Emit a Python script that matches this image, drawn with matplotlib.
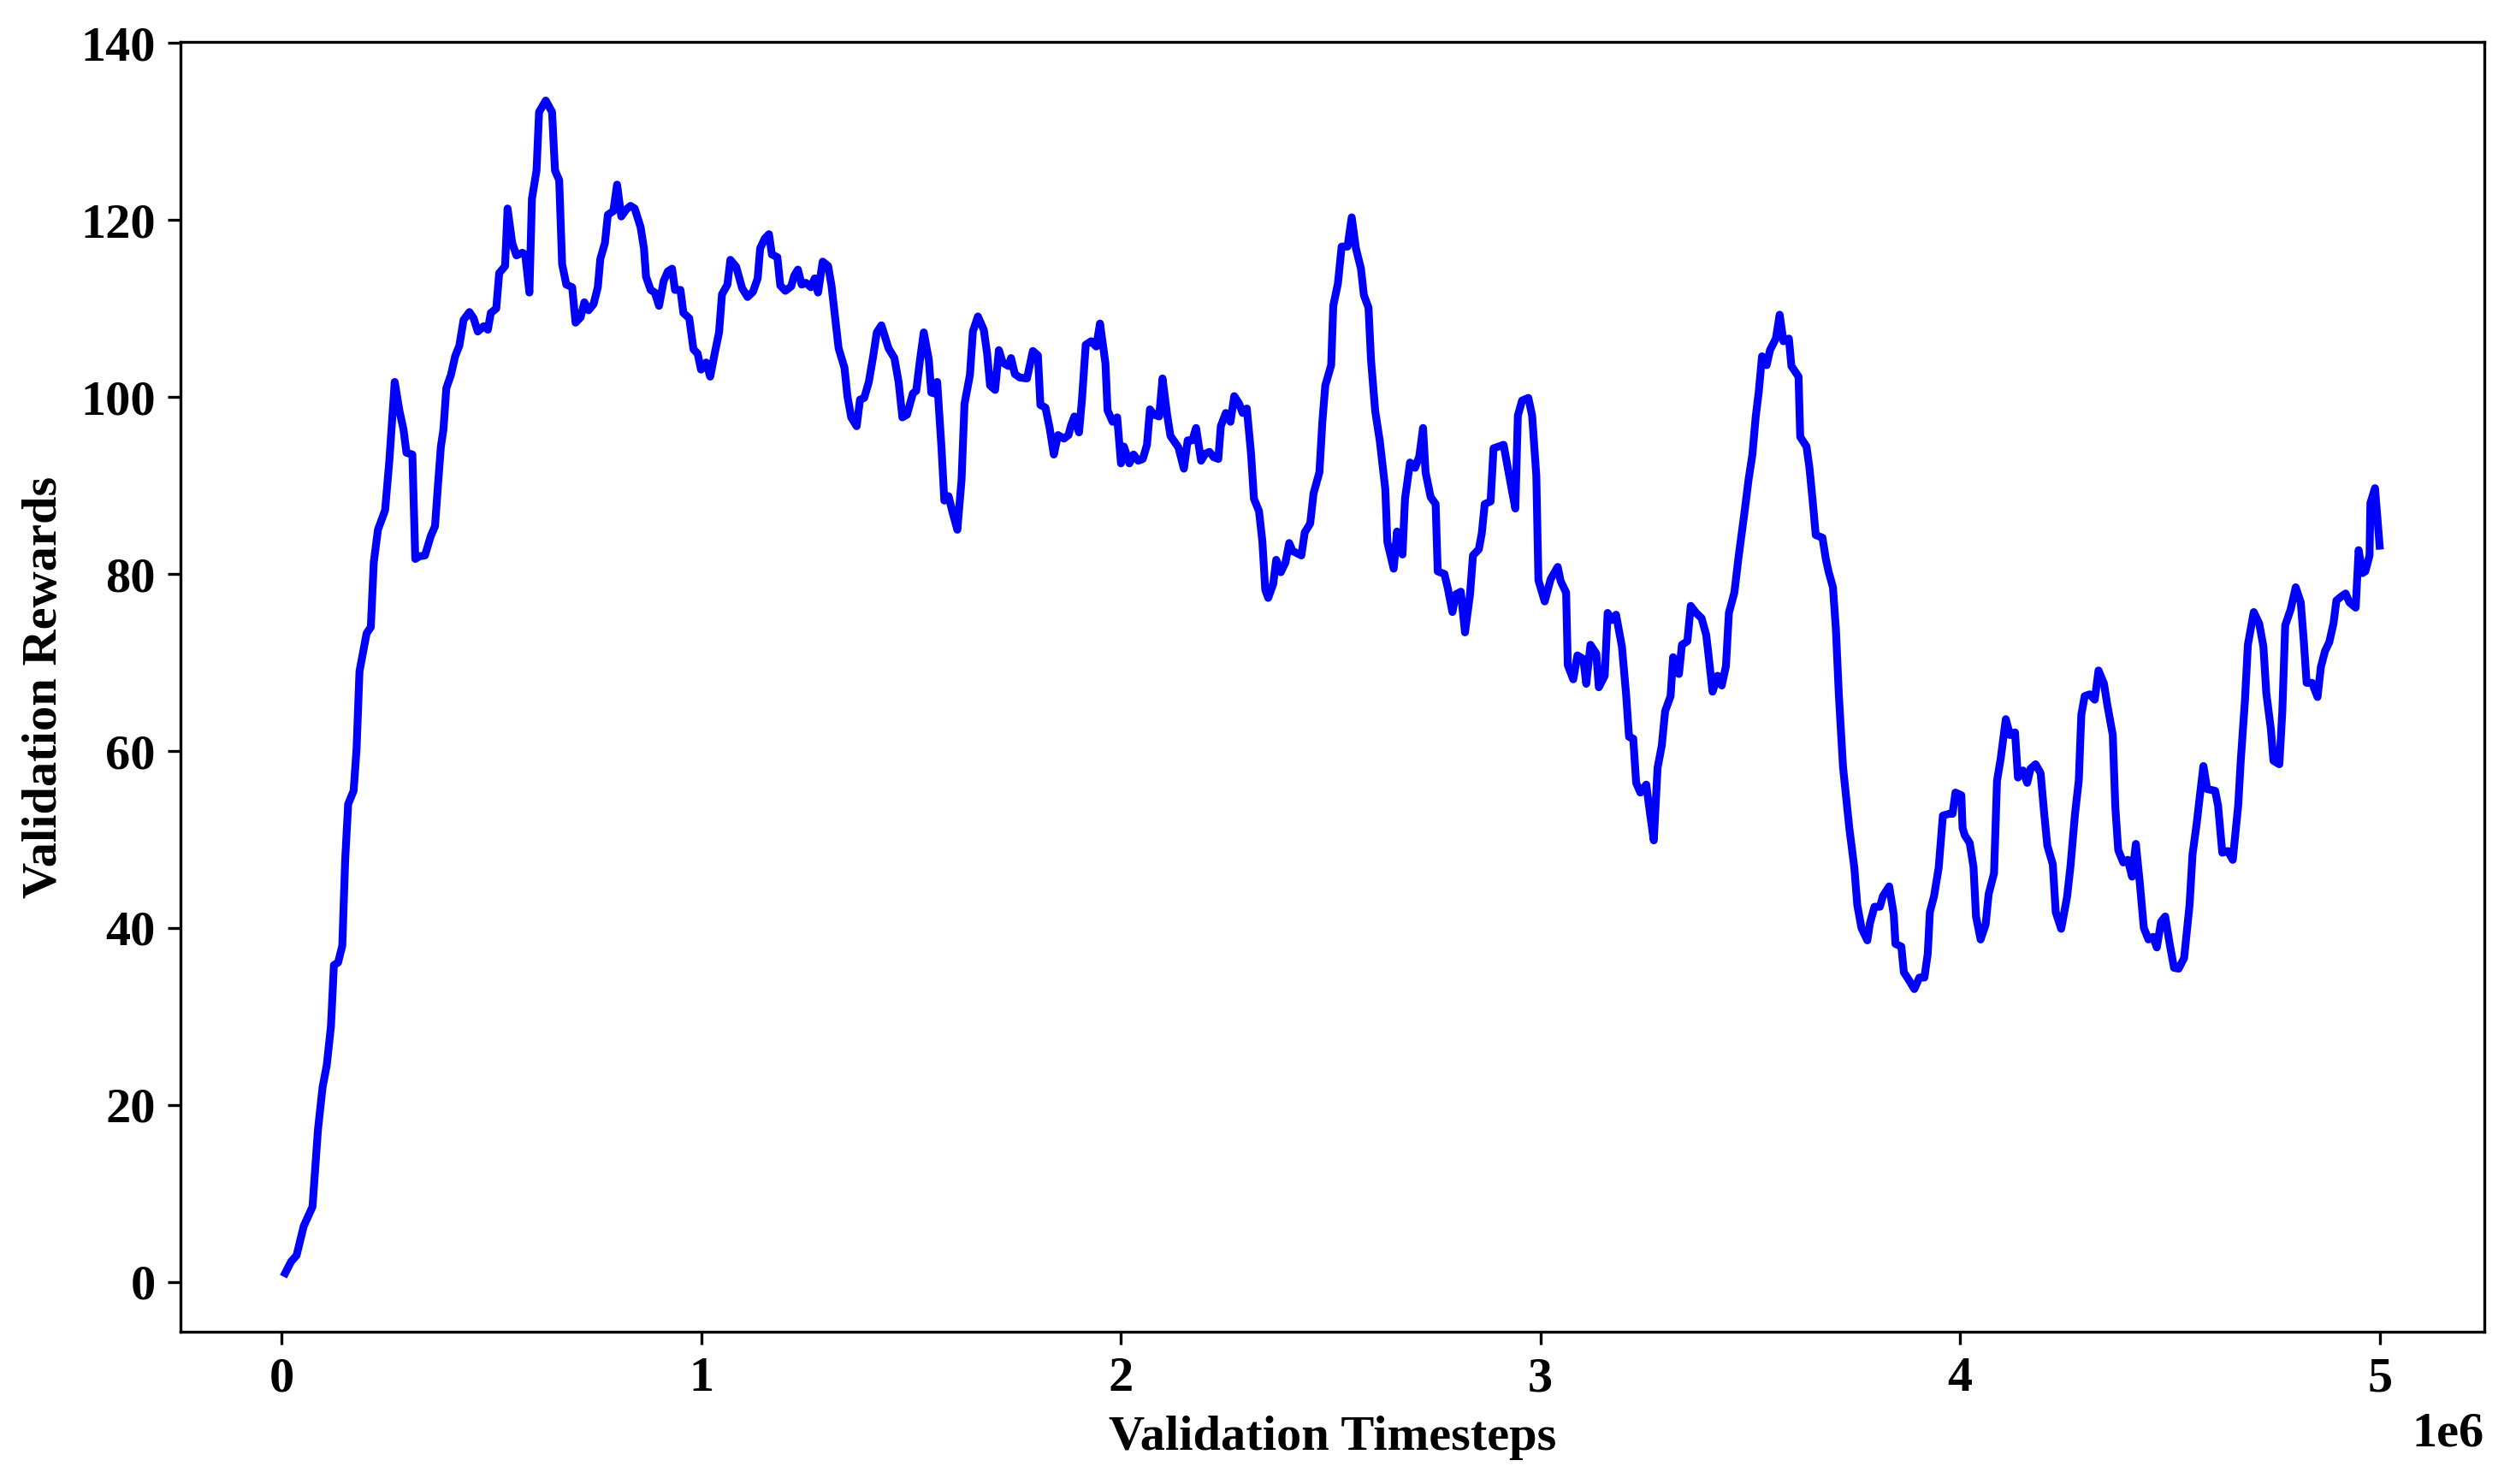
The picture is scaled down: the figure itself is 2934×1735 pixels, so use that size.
import matplotlib
matplotlib.use("Agg")
import matplotlib.pyplot as plt
import numpy as np

# Timesteps in millions and the matching rewards
timesteps_m = [
    0.008, 0.022, 0.035, 0.052, 0.073, 0.086, 0.097, 0.107, 0.117, 0.124,
    0.134, 0.144, 0.151, 0.158, 0.171, 0.178, 0.185, 0.202, 0.212, 0.219,
    0.229, 0.246, 0.256, 0.269, 0.280, 0.290, 0.297, 0.311, 0.318, 0.328,
    0.341, 0.355, 0.365, 0.372, 0.379, 0.385, 0.392, 0.403, 0.413, 0.423,
    0.433, 0.447, 0.457, 0.467, 0.481, 0.491, 0.498, 0.511, 0.518, 0.532,
    0.538, 0.549, 0.559, 0.573, 0.580, 0.590, 0.596, 0.607, 0.613, 0.629,
    0.644, 0.651, 0.661, 0.668, 0.678, 0.692, 0.700, 0.712, 0.721, 0.731,
    0.743, 0.753, 0.759, 0.770, 0.777, 0.790, 0.799, 0.809, 0.821, 0.831,
    0.841, 0.855, 0.863, 0.868, 0.879, 0.889, 0.899, 0.910, 0.920, 0.930,
    0.937, 0.950, 0.957, 0.971, 0.981, 0.991, 0.999, 1.011, 1.021, 1.032,
    1.042, 1.049, 1.062, 1.069, 1.083, 1.097, 1.110, 1.123, 1.134, 1.140,
    1.151, 1.161, 1.168, 1.181, 1.188, 1.200, 1.214, 1.221, 1.230, 1.239,
    1.249, 1.261, 1.270, 1.278, 1.289, 1.302, 1.310, 1.317, 1.327, 1.341,
    1.348, 1.357, 1.370, 1.378, 1.388, 1.399, 1.409, 1.418, 1.429, 1.446,
    1.460, 1.470, 1.479, 1.490, 1.504, 1.512, 1.521, 1.530, 1.542, 1.548,
    1.555, 1.562, 1.572, 1.579, 1.589, 1.599, 1.610, 1.620, 1.627, 1.640,
    1.647, 1.659, 1.673, 1.681, 1.688, 1.700, 1.709, 1.718, 1.732, 1.738,
    1.747, 1.759, 1.776, 1.790, 1.802, 1.808, 1.820, 1.830, 1.840, 1.850,
    1.864, 1.875, 1.881, 1.889, 1.900, 1.907, 1.916, 1.929, 1.941, 1.950,
    1.963, 1.968, 1.980, 1.991, 2.000, 2.007, 2.020, 2.030, 2.041, 2.052,
    2.062, 2.069, 2.079, 2.091, 2.099, 2.110, 2.118, 2.137, 2.150, 2.159,
    2.170, 2.179, 2.191, 2.201, 2.211, 2.221, 2.232, 2.238, 2.250, 2.261,
    2.270, 2.281, 2.290, 2.300, 2.310, 2.317, 2.329, 2.337, 2.344, 2.351,
    2.363, 2.370, 2.381, 2.392, 2.401, 2.409, 2.430, 2.438, 2.451, 2.459,
    2.473, 2.480, 2.487, 2.501, 2.506, 2.517, 2.526, 2.540, 2.550, 2.560,
    2.572, 2.579, 2.590, 2.596, 2.606, 2.617, 2.630, 2.635, 2.650, 2.658,
    2.671, 2.677, 2.689, 2.701, 2.711, 2.720, 2.726, 2.738, 2.750, 2.755,
    2.771, 2.779, 2.790, 2.798, 2.810, 2.820, 2.832, 2.839, 2.853, 2.860,
    2.867, 2.881, 2.888, 2.912, 2.922, 2.932, 2.940, 2.946, 2.956, 2.971,
    2.980, 2.990, 2.995, 3.010, 3.024, 3.041, 3.048, 3.061, 3.065, 3.078,
    3.088, 3.102, 3.109, 3.119, 3.133, 3.139, 3.153, 3.160, 3.170, 3.180,
    3.194, 3.204, 3.211, 3.221, 3.228, 3.238, 3.252, 3.262, 3.270, 3.279,
    3.289, 3.297, 3.310, 3.316, 3.330, 3.337, 3.350, 3.358, 3.371, 3.384,
    3.395, 3.401, 3.410, 3.422, 3.432, 3.442, 3.449, 3.462, 3.472, 3.486,
    3.496, 3.505, 3.513, 3.520, 3.528, 3.539, 3.547, 3.561, 3.570, 3.579,
    3.592, 3.598, 3.615, 3.619, 3.634, 3.641, 3.649, 3.656, 3.672, 3.680,
    3.687, 3.697, 3.704, 3.711, 3.721, 3.736, 3.748, 3.755, 3.765, 3.779,
    3.785, 3.796, 3.809, 3.816, 3.831, 3.842, 3.846, 3.860, 3.866, 3.877,
    3.891, 3.903, 3.915, 3.923, 3.928, 3.938, 3.949, 3.959, 3.974, 3.982,
    3.989, 4.003, 4.006, 4.011, 4.023, 4.032, 4.038, 4.049, 4.061, 4.068,
    4.081, 4.088, 4.097, 4.109, 4.119, 4.131, 4.138, 4.150, 4.160, 4.168,
    4.180, 4.192, 4.200, 4.208, 4.221, 4.228, 4.241, 4.255, 4.263, 4.274,
    4.283, 4.289, 4.297, 4.309, 4.321, 4.330, 4.343, 4.351, 4.364, 4.370,
    4.377, 4.389, 4.400, 4.410, 4.419, 4.428, 4.438, 4.449, 4.460, 4.469,
    4.479, 4.489, 4.500, 4.510, 4.521, 4.534, 4.547, 4.554, 4.564, 4.571,
    4.580, 4.589, 4.608, 4.615, 4.625, 4.638, 4.650, 4.663, 4.669, 4.679,
    4.686, 4.700, 4.713, 4.723, 4.730, 4.741, 4.747, 4.761, 4.768, 4.775,
    4.788, 4.800, 4.812, 4.819, 4.826, 4.839, 4.852, 4.860, 4.870, 4.880,
    4.890, 4.897, 4.907, 4.919, 4.928, 4.943, 4.950, 4.959, 4.966, 4.976,
    4.978, 4.989, 5.000,
]

rewards = [
    1.0, 2.3, 3.0, 6.3, 8.5, 17.2, 22.0, 24.5, 28.9, 35.8,
    36.1, 38.0, 47.8, 54.0, 55.5, 60.2, 69.0, 73.3, 74.0, 81.3,
    85.0, 87.2, 92.7, 101.7, 98.5, 96.3, 93.7, 93.5, 81.7, 82.0,
    82.1, 84.3, 85.4, 90.0, 94.4, 96.3, 101.0, 102.5, 104.6, 105.8,
    108.7, 109.6, 108.9, 107.4, 108.0, 107.6, 109.5, 110.0, 114.0, 114.8,
    121.3, 117.4, 116.0, 116.3, 116.1, 111.8, 122.4, 125.6, 132.2, 133.5,
    132.2, 125.6, 124.5, 115.0, 112.7, 112.4, 108.4, 109.0, 110.7, 109.8,
    110.5, 112.4, 115.6, 117.4, 120.6, 121.0, 124.0, 120.4, 121.2, 121.6,
    121.3, 119.2, 116.8, 113.6, 112.1, 111.8, 110.3, 113.1, 114.2, 114.5,
    112.1, 112.1, 109.5, 108.9, 105.4, 104.9, 103.1, 103.9, 102.3, 105.0,
    107.3, 111.6, 112.7, 115.5, 114.7, 112.3, 111.3, 111.9, 113.4, 116.8,
    117.9, 118.4, 116.1, 115.8, 112.6, 112.0, 112.5, 113.7, 114.4, 112.7,
    112.9, 112.4, 113.4, 111.8, 115.3, 114.8, 112.6, 109.7, 105.5, 103.3,
    100.1, 97.7, 96.7, 99.7, 99.9, 101.7, 104.5, 107.3, 108.1, 105.5,
    104.4, 101.7, 97.7, 98.0, 100.4, 100.7, 104.2, 107.3, 104.2, 100.5,
    100.4, 101.7, 94.4, 88.3, 88.8, 86.9, 85.0, 90.6, 99.2, 102.5,
    107.4, 109.1, 107.6, 104.9, 101.3, 100.8, 105.3, 103.9, 103.5, 104.4,
    102.6, 102.2, 102.1, 105.2, 104.7, 99.1, 98.8, 96.5, 93.5, 95.7,
    95.3, 95.7, 96.8, 97.8, 96.0, 99.7, 105.9, 106.3, 105.7, 108.3,
    103.8, 98.5, 97.2, 97.7, 92.5, 94.4, 92.5, 93.5, 92.8, 93.0,
    94.6, 98.6, 98.0, 97.8, 102.1, 98.0, 95.6, 94.3, 91.9, 95.1,
    95.1, 96.5, 92.8, 93.6, 93.8, 93.2, 93.0, 96.7, 98.2, 97.2,
    100.1, 99.3, 98.2, 98.7, 93.6, 88.5, 87.1, 83.7, 78.2, 77.3,
    78.9, 81.6, 80.2, 81.3, 83.5, 82.6, 82.1, 84.7, 85.7, 89.1,
    91.5, 97.2, 101.3, 103.6, 110.3, 112.8, 117.0, 117.0, 120.3, 116.8,
    114.5, 111.5, 110.1, 104.2, 98.4, 95.0, 89.6, 83.6, 80.6, 84.8,
    82.2, 88.5, 92.6, 92.0, 93.3, 96.5, 91.5, 88.7, 87.9, 80.3,
    80.0, 78.4, 75.7, 77.7, 78.0, 73.4, 77.7, 82.1, 82.8, 84.6,
    87.9, 88.2, 94.2, 94.6, 92.0, 89.4, 87.4, 97.9, 99.6, 99.9,
    97.9, 91.1, 79.3, 76.9, 79.4, 80.8, 79.2, 77.9, 69.7, 68.1,
    70.8, 70.4, 67.6, 72.0, 71.0, 67.2, 68.5, 75.6, 74.8, 75.4,
    71.8, 66.4, 61.6, 61.4, 56.4, 55.3, 56.2, 52.6, 49.9, 58.1,
    60.6, 64.5, 66.2, 70.6, 68.7, 72.0, 72.4, 76.4, 75.6, 75.0,
    73.1, 70.6, 66.7, 68.5, 67.4, 69.6, 75.6, 77.9, 81.9, 86.9,
    90.7, 93.5, 97.8, 100.5, 104.6, 103.6, 105.3, 106.6, 109.3, 106.3,
    106.6, 103.5, 102.3, 95.5, 94.4, 92.0, 88.1, 84.4, 84.1, 81.7,
    80.2, 78.5, 73.8, 66.4, 58.2, 51.3, 46.8, 42.6, 40.0, 38.6,
    40.5, 42.4, 42.4, 43.6, 44.7, 41.5, 38.2, 37.9, 35.0, 34.2,
    33.1, 34.4, 34.4, 37.1, 41.8, 43.6, 46.8, 52.7, 52.9, 52.9,
    55.3, 55.0, 51.3, 50.5, 49.6, 46.9, 41.3, 38.7, 40.4, 43.8,
    46.2, 56.6, 59.2, 63.6, 61.8, 62.1, 57.0, 57.8, 56.4, 58.0,
    58.5, 57.5, 53.2, 49.3, 47.2, 41.8, 39.9, 43.5, 46.9, 52.9,
    56.7, 64.1, 66.2, 66.4, 65.8, 69.1, 67.6, 65.2, 61.8, 53.7,
    48.8, 47.4, 47.7, 45.8, 49.5, 45.3, 40.0, 38.7, 39.0, 37.8,
    40.7, 41.3, 38.1, 35.5, 35.4, 36.6, 42.6, 48.3, 51.8, 54.7,
    58.3, 55.7, 55.5, 53.8, 48.5, 48.7, 47.7, 53.9, 58.9, 65.7,
    72.0, 75.7, 74.4, 71.8, 66.5, 62.4, 58.9, 58.5, 64.4, 74.2,
    76.0, 78.5, 76.8, 72.6, 67.7, 67.7, 66.1, 69.5, 71.3, 72.3,
    74.4, 77.0, 77.4, 77.8, 76.8, 76.2, 82.7, 80.1, 80.3, 82.1,
    88.0, 89.7, 83.2,
]

x_label = "Validation Timesteps"
y_label = "Validation Rewards"
y_ticks = [0, 20, 40, 60, 80, 100, 120, 140]
x_ticks = [0, 1e6, 2e6, 3e6, 4e6, 5e6]

plt.rcParams['font.family'] = ['Liberation Serif', 'DejaVu Serif']
plt.rcParams['font.weight'] = 'bold'
plt.rcParams['axes.labelweight'] = 'bold'

W, H = 2934, 1735
DPI = 300
fig = plt.figure(figsize=(W / DPI, H / DPI), dpi=DPI)
ax = fig.add_axes([211 / W, 1 - 1557 / H, (2904 - 211) / W, (1557 - 49) / H])

x = np.array(timesteps_m) * 1e6
ax.plot(x, rewards, color='#0000ff', linewidth=2.2)

ax.set_xticks(x_ticks)
ax.set_yticks(y_ticks)
ax.tick_params(labelsize=14)
for lab in ax.get_xticklabels() + ax.get_yticklabels():
    lab.set_fontweight('bold')
ax.xaxis.get_offset_text().set_fontsize(14)
ax.xaxis.get_offset_text().set_fontweight('bold')

ax.set_xlabel(x_label, fontsize=14, fontweight='bold')
ax.set_ylabel(y_label, fontsize=14, fontweight='bold')

fig.savefig("out.png", dpi=DPI)
